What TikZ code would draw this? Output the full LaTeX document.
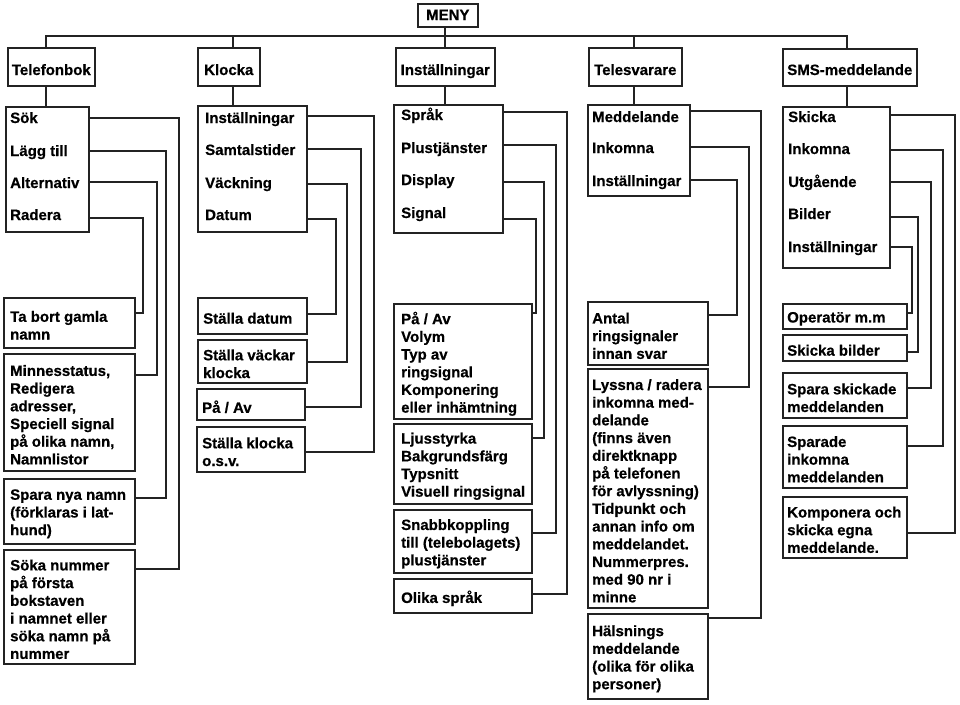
\documentclass[tikz,border=0pt]{standalone}
\usepackage{fontspec}
\setmainfont{Liberation Sans}[BoldFeatures={FakeBold=0.6}]
\definecolor{lc}{RGB}{35,35,35}
\tikzset{
  box/.style={draw=lc, line width=1.6pt, inner sep=0pt, fill=white},
  txt/.style={inner sep=0pt, align=left, font=\fontsize{15}{17.7}\selectfont\bfseries},
  wire/.style={draw=lc, line width=1.6pt, line join=miter}
}
% empty box: name, x1, y1, x2, y2
\newcommand\ebox[5]{%
  \pgfmathsetmacro\bw{#4-#2}\pgfmathsetmacro\bh{#5-#3}%
  \node[box, anchor=north west, minimum width=\bw pt, minimum height=\bh pt] (#1) at (#2,#3) {};}
% centred label box: name, x1, y1, x2, y2, baseline y, text
\newcommand\lbox[7]{%
  \ebox{#1}{#2}{#3}{#4}{#5}%
  \coordinate (#1b) at (0,#6);
  \node[txt, anchor=base] (#1t) at (#1b -| #1.center) {#7};}
% text box: name, x1, y1, x2, y2, inset, text
\newcommand\tbox[7]{%
  \ebox{#1}{#2}{#3}{#4}{#5}%
  \node[txt, anchor=west] (#1t) at ([xshift=#6, yshift=-2.5]#1.west) {#7};}
% wire: from, to, x, ya, yb
\newcommand\wire[5]{%
  \coordinate (#1-#2-a) at (#3,#4);
  \coordinate (#1-#2-b) at (#3,#5);
  \draw[wire] (#1-#2-a -| #1.east) -- (#1-#2-a) -- (#1-#2-b) -- (#1-#2-b -| #2.east);}
\begin{document}
\begin{tikzpicture}[x=1pt,y=-1pt]
\useasboundingbox (0,0) rectangle (960,704);

% level 0 and 1
\lbox{Meny}{417}{3}{477}{26}{20}{MENY}
\lbox{Tel}{7}{47}{94}{85}{75}{Telefonbok}
\lbox{Klo}{197}{47}{259}{85}{75}{Klocka}
\lbox{Ins}{395}{47}{494}{85}{75}{Inställningar}
\lbox{Tsv}{588}{47}{681}{85}{75}{Telesvarare}
\lbox{Sms}{782}{48}{916}{85}{75}{SMS-meddelande}

% level 2
\ebox{T2}{5}{106}{88}{231}
\ebox{K2}{197}{105}{306}{231}
\ebox{I2}{393}{104}{502}{232}
\ebox{S2}{587}{104}{689}{195}
\ebox{M2}{782}{106}{889}{267}

\node[txt, anchor=base west] (t2a) at (10,123) {Sök};
\node[txt, anchor=base west] (t2b) at (10,156) {Lägg till};
\node[txt, anchor=base west] (t2c) at (10,188) {Alternativ};
\node[txt, anchor=base west] (t2d) at (10,220) {Radera};

\node[txt, anchor=base west] (k2a) at (205,123) {Inställningar};
\node[txt, anchor=base west] (k2b) at (205,155) {Samtalstider};
\node[txt, anchor=base west] (k2c) at (205,188) {Väckning};
\node[txt, anchor=base west] (k2d) at (205,220) {Datum};

\node[txt, anchor=base west] (i2a) at (401,120) {Språk};
\node[txt, anchor=base west] (i2b) at (401,153) {Plustjänster};
\node[txt, anchor=base west] (i2c) at (401,185) {Display};
\node[txt, anchor=base west] (i2d) at (401,218) {Signal};

\node[txt, anchor=base west] (s2a) at (592,122) {Meddelande};
\node[txt, anchor=base west] (s2b) at (592,153) {Inkomna};
\node[txt, anchor=base west] (s2c) at (592,186) {Inställningar};

\node[txt, anchor=base west] (m2a) at (788,122) {Skicka};
\node[txt, anchor=base west] (m2b) at (788,154) {Inkomna};
\node[txt, anchor=base west] (m2c) at (788,187) {Utgående};
\node[txt, anchor=base west] (m2d) at (788,219) {Bilder};
\node[txt, anchor=base west] (m2e) at (788,252) {Inställningar};

% level 3
\tbox{a1}{3}{297}{134}{347}{7}{Ta bort gamla\\namn}
\tbox{a2}{3}{353}{134}{470}{7}{Minnesstatus,\\Redigera\\adresser,\\Speciell signal\\på olika namn,\\Namnlistor}
\tbox{a3}{3}{478}{134}{543}{7}{Spara nya namn\\(förklaras i lat-\\hund)}
\tbox{a4}{3}{549}{134}{663}{7}{Söka nummer\\på första\\bokstaven\\i namnet eller\\söka namn på\\nummer}

\tbox{b1}{197}{297}{306}{333}{6}{Ställa datum}
\tbox{b2}{197}{339}{306}{382}{6}{Ställa väckar\\klocka}
\tbox{b3}{196}{388}{304}{419}{6}{På / Av}
\tbox{b4}{196}{426}{304}{471}{6}{Ställa klocka\\o.s.v.}

\tbox{c1}{393}{303}{531}{418}{8}{På / Av\\Volym\\Typ av\\ringsignal\\Komponering\\eller inhämtning}
\tbox{c2}{393}{423}{531}{503}{8}{Ljusstyrka\\Bakgrundsfärg\\Typsnitt\\Visuell ringsignal}
\tbox{c3}{393}{509}{531}{572}{8}{Snabbkoppling\\till (telebolagets)\\plustjänster}
\tbox{c4}{393}{578}{531}{612}{8}{Olika språk}

\tbox{d1}{587}{301}{707}{364}{5}{Antal\\ringsignaler\\innan svar}
\tbox{d2}{587}{368}{707}{607}{5}{Lyssna / radera\\inkomna med-\\delande\\(finns även\\direktknapp\\på telefonen\\för avlyssning)\\Tidpunkt och\\annan info om\\meddelandet.\\Nummerpres.\\med 90 nr i\\minne}
\tbox{d3}{587}{613}{707}{698}{5}{Hälsnings\\meddelande\\(olika för olika\\personer)}

\tbox{e1}{782}{303}{906}{328}{5}{Operatör m.m}
\tbox{e2}{782}{334}{906}{360}{5}{Skicka bilder}
\tbox{e3}{782}{372}{906}{417}{5}{Spara skickade\\meddelanden}
\tbox{e4}{782}{425}{906}{487}{5}{Sparade\\inkomna\\meddelanden}
\tbox{e5}{782}{496}{906}{557}{5}{Komponera och\\skicka egna\\meddelande.}

% top tree
\coordinate (s0) at (445,36);
\coordinate (s1) at (46,36);
\coordinate (s2) at (233,36);
\coordinate (s3) at (445,36);
\coordinate (s4) at (634,36);
\coordinate (s5) at (847,36);
\draw[wire] (s0 |- Meny.south) -- (s0);
\draw[wire] (s1 |- Tel.north) -- (s1) -- (s5) -- (s5 |- Sms.north);
\draw[wire] (s2) -- (s2 |- Klo.north);
\draw[wire] (s3) -- (s3 |- Ins.north);
\draw[wire] (s4) -- (s4 |- Tsv.north);
\draw[wire] (s1 |- Tel.south) -- (s1 |- T2.north);
\draw[wire] (s2 |- Klo.south) -- (s2 |- K2.north);
\draw[wire] (s3 |- Ins.south) -- (s3 |- I2.north);
\draw[wire] (s4 |- Tsv.south) -- (s4 |- S2.north);
\draw[wire] (s5 |- Sms.south) -- (s5 |- M2.north);

% connectors
\wire{T2}{a4}{179}{118}{569}
\wire{T2}{a3}{166}{151}{498}
\wire{T2}{a2}{157}{182}{375}
\wire{T2}{a1}{143}{218}{313}

\wire{K2}{b4}{374}{116}{452}
\wire{K2}{b3}{361}{149}{407}
\wire{K2}{b2}{347}{184}{362}
\wire{K2}{b1}{336}{219}{314}

\wire{I2}{c4}{567}{112}{594}
\wire{I2}{c3}{556}{145}{533}
\wire{I2}{c2}{544}{182}{438}
\wire{I2}{c1}{536}{219}{313}

\wire{S2}{d3}{761}{111}{618}
\wire{S2}{d2}{749}{147}{387}
\wire{S2}{d1}{737}{180}{315}

\wire{M2}{e5}{955}{115}{533}
\wire{M2}{e4}{943}{150}{446}
\wire{M2}{e3}{931}{182}{388}
\wire{M2}{e2}{918}{217}{352}
\wire{M2}{e1}{912}{247}{313}
\end{tikzpicture}
\end{document}
